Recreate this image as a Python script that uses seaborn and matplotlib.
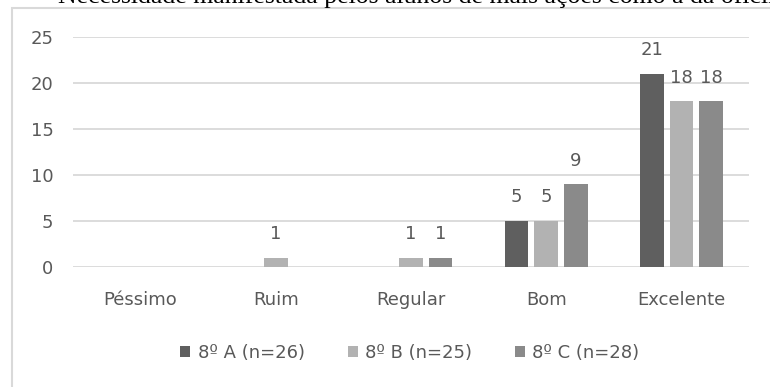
import matplotlib
matplotlib.use("Agg")
import matplotlib.pyplot as plt
import seaborn as sns
import pandas as pd
from matplotlib.patches import Rectangle, Patch

categories = ["Péssimo", "Ruim", "Regular", "Bom", "Excelente"]
series_names = ["8º A (n=26)", "8º B (n=25)", "8º C (n=28)"]
values_a = [0, 0, 0, 5, 21]
values_b = [0, 1, 1, 5, 18]
values_c = [0, 0, 1, 9, 18]
colors = ["#5f5f5f", "#b2b2b2", "#8a8a8a"]
title_text = "Necessidade manifestada pelos alunos de mais ações como a da oficina"

rows = []
for name, vals in zip(series_names, [values_a, values_b, values_c]):
    for cat, v in zip(categories, vals):
        rows.append({"cat": cat, "val": v, "turma": name})
df = pd.DataFrame(rows)

sns.set_theme(style="white")
plt.rcParams["font.family"] = ["DejaVu Sans"]
txt = "#595959"
fs = 13

fig = plt.figure(figsize=(7.7, 3.87), dpi=100)
W, H = 770, 387
ax = fig.add_axes([73 / W, 1 - 267 / H, (749 - 73) / W, (267 - 37) / H])

sns.barplot(data=df, x="cat", y="val", hue="turma", order=categories,
            hue_order=series_names, palette=colors, width=0.655, gap=0.2,
            linewidth=0, saturation=1, ax=ax, legend=False)

ax.set_ylim(0, 25)
ax.set_yticks([0, 5, 10, 15, 20, 25])
ax.yaxis.grid(True, color="#d9d9d9", linewidth=1.3)
ax.set_axisbelow(True)
for s in ax.spines.values():
    s.set_visible(False)
ax.set_xlabel("")
ax.set_ylabel("")
ax.tick_params(axis="y", length=0, pad=14, labelsize=fs, labelcolor=txt)
ax.tick_params(axis="x", length=0, pad=17, labelsize=fs, labelcolor=txt)

for cont in ax.containers:
    labels = [f"{int(b.get_height())}" if b.get_height() > 0 else "" for b in cont]
    ax.bar_label(cont, labels=labels, padding=10.5, fontsize=fs, color=txt)

handles = [Patch(facecolor=c, edgecolor="none") for c in colors]
fig.legend(handles, series_names, loc="center", bbox_to_anchor=(410 / W, 1 - 353 / H),
           ncol=3, frameon=False, fontsize=fs, labelcolor=txt,
           handlelength=0.55, handleheight=0.55, handletextpad=0.4, columnspacing=2.4)

# chart border (light gray box, partly outside the image)
fig.add_artist(Rectangle((12 / W, -0.1), 1.2, 1 - 8 / H + 0.1, transform=fig.transFigure,
                         fill=False, edgecolor="#d9d9d9", linewidth=1.5))

# clipped document caption above the chart
fig.text(58 / W, 1 - 2.5 / H, title_text, ha="left", va="baseline",
         fontsize=18.5, family=["Liberation Serif", "DejaVu Serif"], color="black")

fig.savefig("out.png", dpi=100)
